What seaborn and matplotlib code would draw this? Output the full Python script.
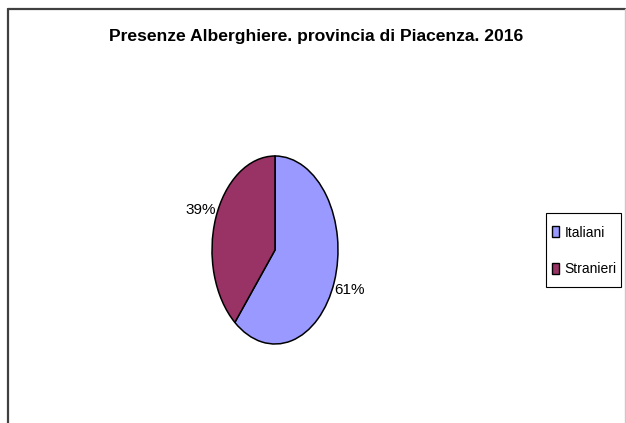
import matplotlib
matplotlib.use("Agg")
import matplotlib.pyplot as plt
import seaborn as sns
from matplotlib.patches import Patch, Rectangle
from matplotlib.lines import Line2D

###Data###
categories = ["Italiani", "Stranieri"]
shares = [61, 39]
colors = ["#9999FF", "#993366"]
title = "Presenze Alberghiere. provincia di Piacenza. 2016"

###Style###
sns.set_style("white")
plt.rcParams["font.family"] = ["Liberation Sans", "DejaVu Sans"]
plt.rcParams["text.color"] = "black"

W, H = 626, 423
fig = plt.figure(figsize=(W / 100, H / 100), dpi=100)

## pie axes placed over the ellipse box (Excel stretches the pie)
ax = fig.add_axes([212 / W, 1 - 344 / H, 126 / W, 188 / H])
wedges, texts, autotexts = ax.pie(
    shares, colors=colors, startangle=90, counterclock=False,
    autopct="%1.0f%%", pctdistance=1.25,
    wedgeprops=dict(edgecolor="black", linewidth=1.1),
    textprops=dict(fontsize=11, color="black"))
ax.set_aspect("auto")
ax.set_xlim(-1, 1)
ax.set_ylim(-1, 1)
ax.axis("off")

fig.text(316 / W, 1 - 36 / H, title, ha="center", va="center",
         fontsize=12.6, fontweight="bold", color="black")

## legend (frame drawn separately to get Excel's loose box)
handles = [Patch(facecolor=c, edgecolor="black", linewidth=1.0) for c in colors]
leg = fig.legend(handles, categories, loc="center left",
                 bbox_to_anchor=(552 / W, 1 - 251 / H), fontsize=10,
                 frameon=False, handlelength=0.5, handleheight=0.8,
                 handletextpad=0.4, labelspacing=1.65, borderpad=0,
                 borderaxespad=0)
fig.add_artist(Rectangle((546 / W, 1 - 287 / H), 75 / W, 74 / H, fill=False,
                         edgecolor="black", lw=0.8, transform=fig.transFigure))

## chart-area border (left/top dark, right light)
fig.add_artist(Line2D([8 / W, 8 / W], [0, 1 - 9 / H], color="#404040", lw=1.6, transform=fig.transFigure))
fig.add_artist(Line2D([8 / W, 625 / W], [1 - 9 / H, 1 - 9 / H], color="#404040", lw=1.6, transform=fig.transFigure))
fig.add_artist(Line2D([625 / W, 625 / W], [0, 1 - 9 / H], color="#c8c8c8", lw=1.0, transform=fig.transFigure))

plt.savefig("out.png", dpi=100)
